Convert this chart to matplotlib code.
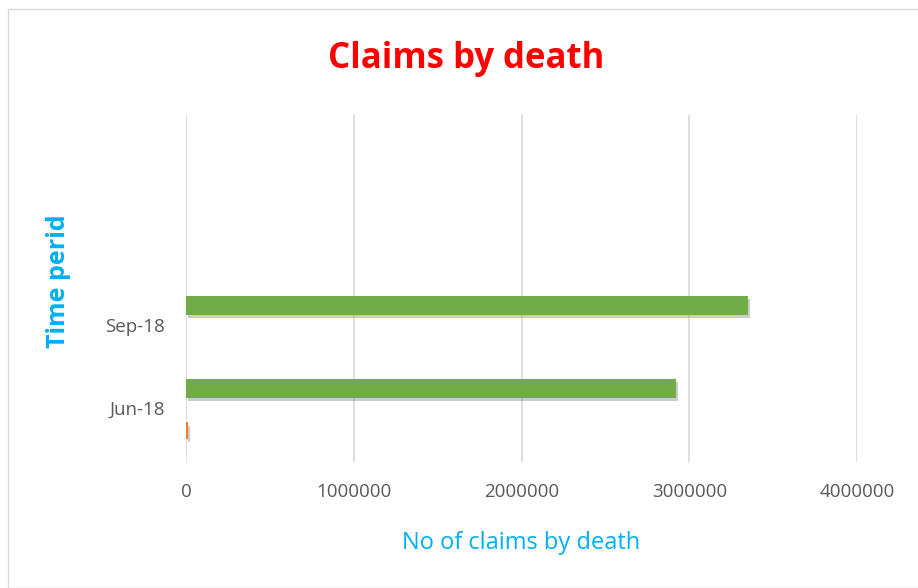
import matplotlib.pyplot as plt
import matplotlib.patheffects as pe
from matplotlib.patches import Rectangle

plt.rcParams.update({
    "font.family": ["Open Sans", "DejaVu Sans"],
})

periods = ["Jun-18", "Sep-18"]
claims_count = [12000, 0]          # orange series (tiny)
claims_amount = [2920000, 3350000]  # green series
x_ticks = [0, 1000000, 2000000, 3000000, 4000000]

fig = plt.figure(figsize=(9.18, 5.88), dpi=100)
fig.patches.append(Rectangle((0.009, 0.0), 1.2, 0.985, transform=fig.transFigure,
                             fill=False, edgecolor="#d9d9d9", linewidth=1))
ax = fig.add_axes([0.2026, 0.2143, 0.731, 0.590])

pos = list(range(len(periods)))
shadow = [pe.SimplePatchShadow(offset=(1.5, -2.5), shadow_rgbFace="#7f7f7f", alpha=0.4), pe.Normal()]
ax.barh([p - 0.27 for p in pos], claims_count, height=0.2, color="#ED7D31",
        path_effects=shadow, zorder=3)
ax.barh([p + 0.24 for p in pos], claims_amount, height=0.23, color="#70AD47",
        path_effects=shadow, zorder=3)

ax.set_xlim(0, 4000000)
ax.set_ylim(-0.65, 3.53)
ax.set_xticks(x_ticks)
ax.set_xticklabels([str(t) for t in x_ticks], color="#595959", fontsize=13.5)
ax.set_yticks(pos)
ax.set_yticklabels(periods, color="#595959", fontsize=13.5)
ax.tick_params(length=0, pad=15)
ax.tick_params(axis="y", pad=15)
ax.grid(axis="x", color="#d9d9d9", linewidth=1.2, zorder=0)
ax.set_axisbelow(True)
for s in ax.spines.values():
    s.set_visible(False)

ax.set_xlabel("No of claims by death", color="#00B0F0", fontsize=17, labelpad=22)
ax.set_ylabel("Time perid", color="#00B0F0", fontsize=18, fontweight="bold")
ax.yaxis.set_label_coords(-0.172, 0.52)

fig.text(0.508, 0.9, "Claims by death", color="#FF0000", fontsize=25,
         fontweight="bold", ha="center", va="center")

fig.savefig("out.png", dpi=100)
